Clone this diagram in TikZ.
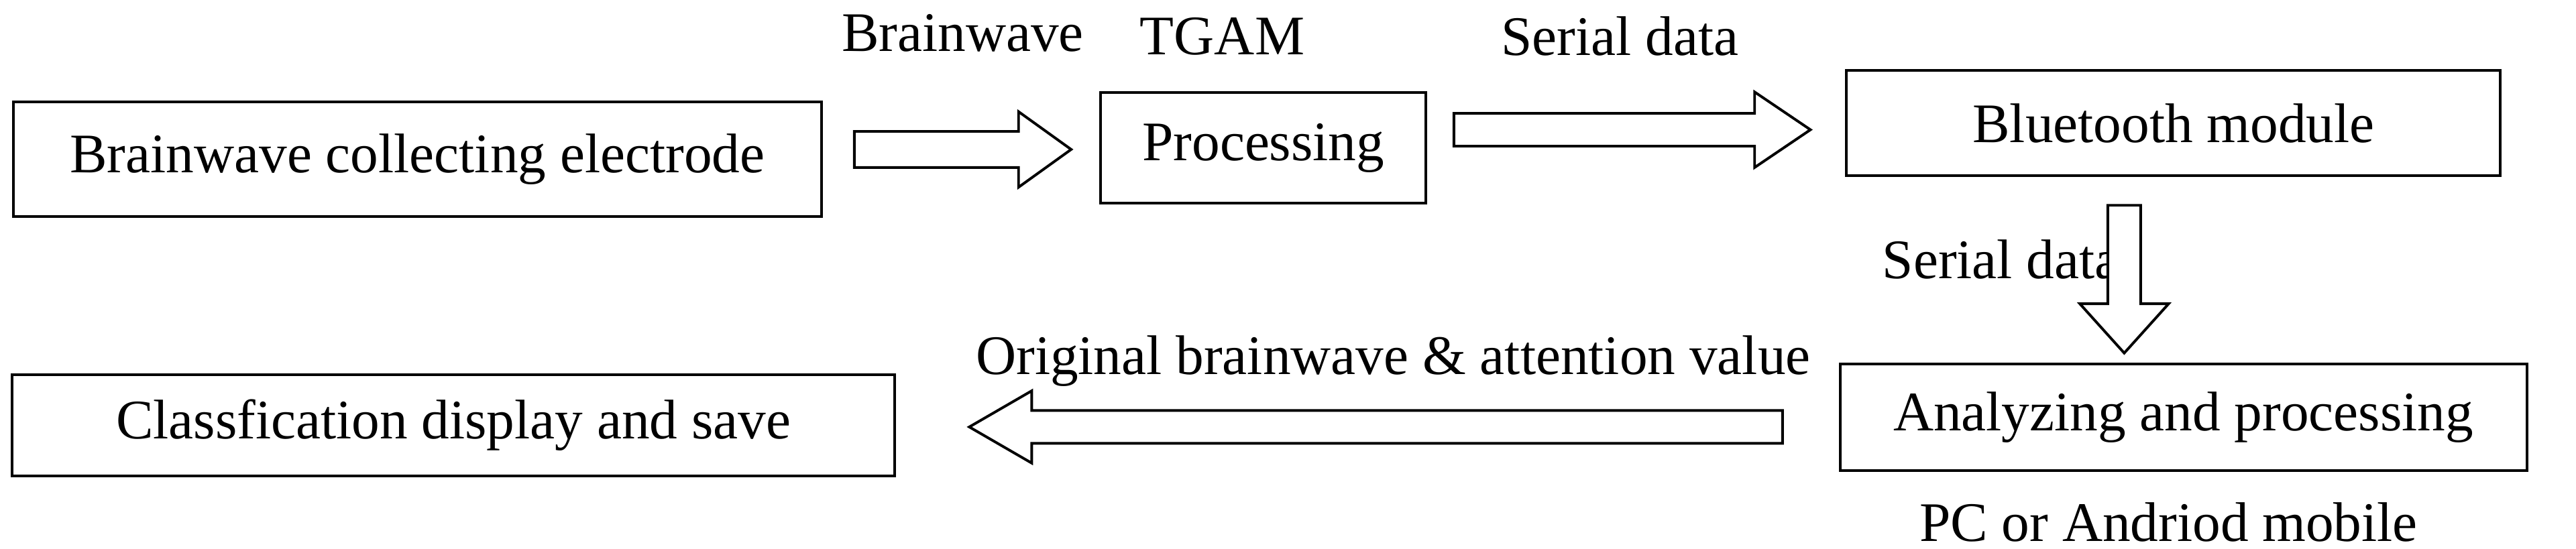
\documentclass[tikz,border=0pt]{standalone}
\usepackage{fontspec}
\setmainfont{Liberation Serif}
\begin{document}
\begin{tikzpicture}[x=0.5pt,y=-0.5pt,
 box/.style={draw,line width=0.8pt,inner sep=0pt},
 lbl/.style={font=\fontsize{17}{19}\selectfont},
 harrow/.style={draw,line width=0.8pt,fill=white}]
\useasboundingbox (0,0) rectangle (1568,334);
\node[box,minimum width=246pt,minimum height=35pt,lbl] (b1) at (254,97) {Brainwave collecting\ electrode};
\node[box,minimum width=99pt,minimum height=33.5pt,lbl] (b2) at (769,90) {Processing};
\node[box,minimum width=199pt,minimum height=32pt,lbl] (b3) at (1323,75) {Bluetooth\ module};
\node[box,minimum width=209pt,minimum height=32.5pt,lbl] (b4) at (1329,254) {Analyzing and processing};
\node[box,minimum width=268.5pt,minimum height=31pt,lbl] (b5) at (276,259) {Classfication display and save};
\node[lbl] (t1) at (586,20) {Brainwave};
\node[lbl] (t2) at (744,22) {TGAM};
\node[lbl] (t3) at (986,22) {Serial data};
\node[lbl] (t4) at (1218,158) {Serial data};
\node[lbl] (t5) at (848,220) {Original brainwave \& attention value};
\node[lbl] (t6) at (1320,318) {PC or Andriod mobile};
\draw[harrow] (520,80)--(620,80)--(620,68)--(652,91)--(620,114)--(620,102)--(520,102)--cycle;
\draw[harrow] (885,69)--(1068,69)--(1068,56)--(1102,79)--(1068,102)--(1068,89)--(885,89)--cycle;
\draw[harrow] (1283,125)--(1283,185)--(1266,185)--(1293,215)--(1320,185)--(1303,185)--(1303,125)--cycle;
\draw[harrow] (1085,250)--(628,250)--(628,238)--(590,260)--(628,282)--(628,270)--(1085,270)--cycle;
\end{tikzpicture}
\end{document}
